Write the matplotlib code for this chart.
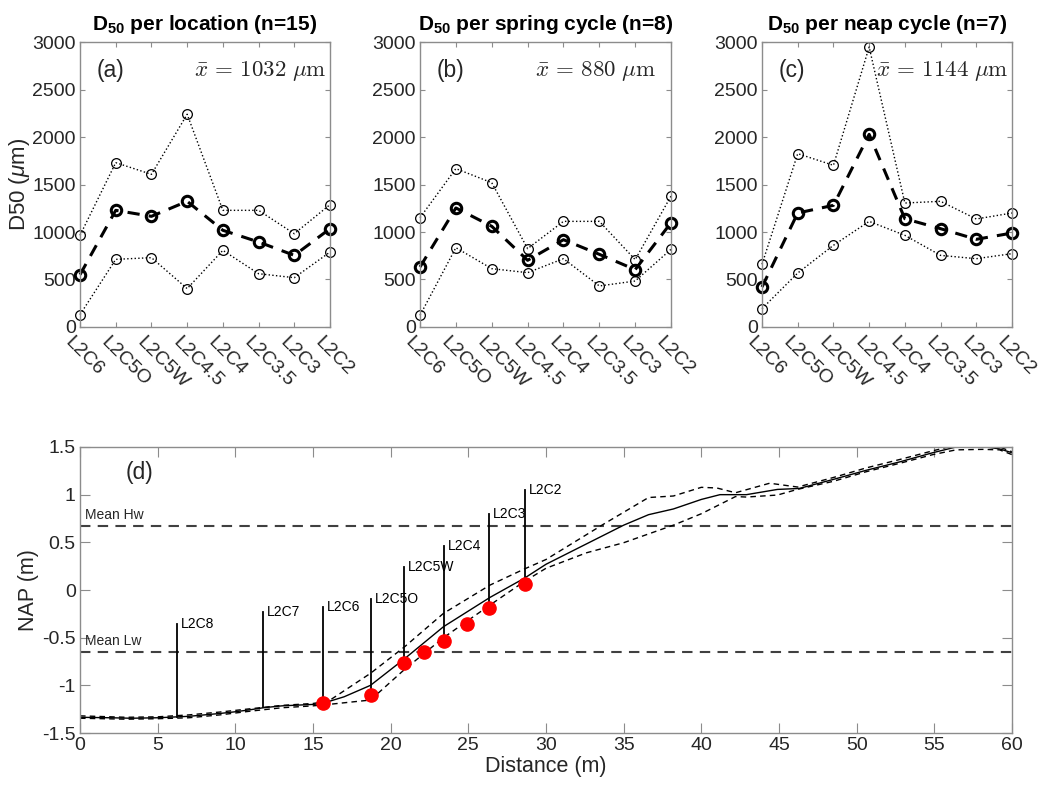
"""
D50 grain size per location / spring / neap cycle, plus cross-shore profile
with sample locations (NAP vs distance).
"""
import numpy as np
import matplotlib
matplotlib.use("Agg")
import matplotlib.pyplot as plt
import matplotlib.transforms as mtransforms

plt.rcParams["font.family"] = ["Liberation Sans", "DejaVu Sans"]
plt.rcParams["mathtext.fontset"] = "custom"
plt.rcParams["mathtext.rm"] = "Liberation Sans"
plt.rcParams["mathtext.bf"] = "Liberation Sans:bold"
plt.rcParams["mathtext.it"] = "Liberation Sans:italic"

# ── Top panels: D50 per location (um) ───────────────────────────────────────
LOCATIONS = ["L2C6", "L2C5O", "L2C5W", "L2C4.5", "L2C4", "L2C3.5", "L2C3", "L2C2"]

loc_upper = [965, 1730, 1607, 2239, 1228, 1228, 982, 1288]
loc_mean  = [551, 1228, 1165, 1323, 1018, 895, 754, 1035]
loc_lower = [130, 712, 730, 404, 807, 561, 519, 789]

spring_upper = [1151, 1667, 1519, 825, 1112, 1112, 709, 1379]
spring_mean  = [632, 1253, 1060, 702, 919, 765, 604, 1098]
spring_lower = [123, 835, 614, 572, 719, 432, 484, 818]

neap_upper = [660, 1825, 1702, 2947, 1305, 1323, 1137, 1200]
neap_mean  = [421, 1200, 1281, 2028, 1140, 1035, 923, 989]
neap_lower = [193, 568, 860, 1112, 965, 754, 719, 772]

panel_titles = [r"$\mathbf{D_{50}}$ per location (n=15)",
                r"$\mathbf{D_{50}}$ per spring cycle (n=8)",
                r"$\mathbf{D_{50}}$ per neap cycle (n=7)"]
panel_letters = ["(a)", "(b)", "(c)"]
panel_means = [1032, 880, 1144]

# ── Bottom panel: cross-shore profile (m NAP) ───────────────────────────────
prof_x = [0, 2, 3.3, 5, 6.3, 7, 9, 10, 11, 11.8, 13, 15, 15.6, 17, 18.7,
          20.9, 23.4, 26.4, 28.6, 30, 35, 36.6, 38.2, 40, 41.2, 42.9, 44.9,
          46.3, 48.5, 50.6, 52.8, 54.9, 56.4, 58.1, 59.2, 60]
prof_mean = [-1.335, -1.34, -1.345, -1.34, -1.33, -1.325, -1.295, -1.277,
             -1.255, -1.235, -1.215, -1.2, -1.19, -1.12, -1.0,
             -0.72, -0.385, -0.077, 0.123, 0.27, 0.68, 0.79, 0.85, 0.95,
             1.0, 1.0, 1.055, 1.065, 1.16, 1.255, 1.345, 1.44, 1.5, 1.505,
             1.48, 1.44]

upper_x = [0, 3, 5, 7, 9, 11, 13, 15, 16, 18.7, 20.9, 23.4, 26.4, 28.6, 30,
           33.7, 36.6, 38.2, 40, 41, 42.2, 44.4, 46.2, 48.5, 50.6, 52.8,
           54.9, 56.4, 58.1, 59.2, 60]
prof_upper = [-1.32, -1.335, -1.33, -1.31, -1.28, -1.245, -1.21, -1.19,
              -1.165, -0.874, -0.595, -0.245, 0.052, 0.22, 0.32, 0.69, 0.97,
              0.986, 1.077, 1.07, 1.02, 1.12, 1.08, 1.18, 1.28, 1.37, 1.46,
              1.52, 1.52, 1.5, 1.45]

lower_x = [0, 3, 5, 7, 9, 11, 13, 15, 16, 18.7, 20.9, 23.4, 26.4, 28.6, 30,
           32.6, 35, 38.2, 40, 42.2, 42.9, 44.9, 46.2, 48.5, 50.6, 52.8,
           54.9, 56.4, 58.1, 59.2, 60]
prof_lower = [-1.345, -1.355, -1.35, -1.34, -1.31, -1.27, -1.235, -1.215,
              -1.2, -1.154, -0.832, -0.5, -0.157, 0.089, 0.228, 0.39, 0.496,
              0.68, 0.8, 0.98, 0.975, 0.996, 1.056, 1.14, 1.24, 1.33, 1.42,
              1.47, 1.475, 1.47, 1.42]

MEAN_HW = 0.675
MEAN_LW = -0.65

station_names = ["L2C8", "L2C7", "L2C6", "L2C5O", "L2C5W", "L2C4", "L2C3", "L2C2"]
station_x     = [6.27, 11.8, 15.62, 18.71, 20.86, 23.43, 26.35, 28.63]
station_base  = [-1.33, -1.23, -1.19, -1.10, -0.763, -0.535, -0.19, 0.06]
station_top   = [-0.357, -0.227, -0.18, -0.094, 0.238, 0.461, 0.80, 1.05]

sample_x = [15.62, 18.71, 20.86, 22.16, 23.43, 24.94, 26.35, 28.63]
sample_y = [-1.19, -1.10, -0.763, -0.65, -0.535, -0.36, -0.19, 0.06]

SPINE = "#8c8c8c"
TXT = "#262626"


def style_axes(ax, tick_len):
    for s in ax.spines.values():
        s.set_color(SPINE)
        s.set_linewidth(1.0)
    ax.tick_params(direction="in", top=True, right=True, length=tick_len,
                   width=0.8, color=SPINE, labelcolor=TXT, labelsize=14,
                   pad=3)


fig = plt.figure(figsize=(10.42, 7.91), dpi=100)

top_lefts = [0.0768, 0.4031, 0.7313]
top_widths = [0.2399, 0.2409, 0.2399]
series = [(loc_upper, loc_mean, loc_lower),
          (spring_upper, spring_mean, spring_lower),
          (neap_upper, neap_mean, neap_lower)]
xpos = np.arange(1, len(LOCATIONS) + 1)
shift = mtransforms.ScaledTranslation(-6 / 100, -3 / 100, fig.dpi_scale_trans)

for i in range(3):
    ax = fig.add_axes([top_lefts[i], 0.5866, top_widths[i], 0.3603])
    up, mn, lo = series[i]
    for vals in (up, lo):
        ax.plot(xpos, vals, linestyle=":", color="k", lw=1.0, marker="o",
                ms=7, mfc="none", mec="k", mew=0.9, clip_on=False)
    ax.plot(xpos, mn, linestyle="--", dashes=(4, 3), color="k", lw=2.2,
            marker="o", ms=7.5, mfc="none", mec="k", mew=2.2, clip_on=False)
    ax.set_xlim(1, 8)
    ax.set_ylim(0, 3000)
    ax.set_yticks(range(0, 3001, 500))
    ax.set_xticks(xpos)
    ax.set_xticklabels(LOCATIONS, rotation=-45, ha="left", va="top",
                       rotation_mode="anchor")
    style_axes(ax, 3.5)
    for lab in ax.get_xticklabels():
        lab.set_transform(lab.get_transform() + shift)
    ax.set_title(panel_titles[i], fontsize=15, fontweight="bold", pad=9)
    ax.text(1.47, 2700, panel_letters[i], fontsize=16.5, color=TXT,
            ha="left", va="center")
    ax.text(4.2, 2700, r"$\bar{x}\,=\,%d\ \mu\mathrm{m}$" % panel_means[i],
            fontsize=16.5, color=TXT, ha="left", va="center",
            math_fontfamily="cm")
    if i == 0:
        ax.set_ylabel(r"D50 ($\mu$m)", fontsize=16, color=TXT, labelpad=0)

# ── Bottom panel ────────────────────────────────────────────────────────────
ax = fig.add_axes([0.0768, 0.0733, 0.8944, 0.3616])
ax.axhline(MEAN_HW, color="#404040", lw=1.5, linestyle="--", dashes=(5, 3.5))
ax.axhline(MEAN_LW, color="#404040", lw=1.5, linestyle="--", dashes=(5, 3.5))
ax.text(0.35, MEAN_HW + 0.04, "Mean Hw", fontsize=10, color=TXT,
        ha="left", va="bottom")
ax.text(0.35, MEAN_LW + 0.04, "Mean Lw", fontsize=10, color=TXT,
        ha="left", va="bottom")

ax.plot(upper_x, prof_upper, color="k", lw=1.0, linestyle="--", dashes=(4, 3))
ax.plot(lower_x, prof_lower, color="k", lw=1.0, linestyle="--", dashes=(4, 3))
ax.plot(prof_x, prof_mean, color="k", lw=1.0)

for name, sx, sb, st in zip(station_names, station_x, station_base, station_top):
    ax.plot([sx, sx], [sb, st], color="k", lw=1.3)
    ax.text(sx + 0.25, st, name, fontsize=10, color="k", ha="left",
            va="center")

ax.plot(sample_x, sample_y, linestyle="none", marker="o", ms=9.5,
        color="#ff0000", mec="#ff0000", zorder=5)

ax.text(3.85, 1.23, "(d)", fontsize=16.5, color=TXT, ha="center", va="center")

ax.set_xlim(0, 60)
ax.set_ylim(-1.5, 1.5)
ax.set_xticks(range(0, 61, 5))
yt = [-1.5, -1, -0.5, 0, 0.5, 1, 1.5]
ax.set_yticks(yt)
ax.set_yticklabels(["-1.5", "-1", "-0.5", "0", "0.5", "1", "1.5"])
style_axes(ax, 7)
ax.set_xlabel("Distance (m)", fontsize=15.5, color=TXT, labelpad=1)
ax.set_ylabel("NAP (m)", fontsize=15.5, color=TXT, labelpad=2)

fig.savefig("out.png", dpi=100)
